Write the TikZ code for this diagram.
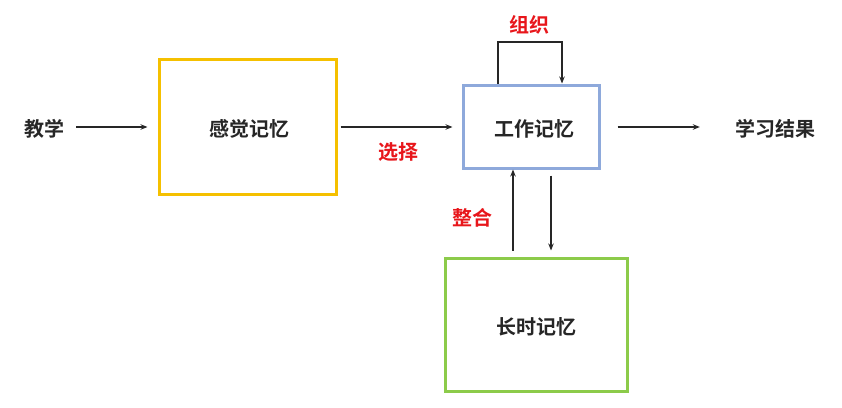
\documentclass[tikz,border=0pt]{standalone}
\usepackage{fontspec}
\setmainfont{Noto Sans CJK SC}[BoldFont={* Bold}]
\usetikzlibrary{arrows.meta}
\definecolor{ybox}{HTML}{F5C000}
\definecolor{bbox}{HTML}{8EA9DB}
\definecolor{gbox}{HTML}{8CCB4A}
\definecolor{lred}{HTML}{E8161B}
\begin{document}
\begin{tikzpicture}[x=1pt,y=-1pt,
  lbl/.style={font=\fontsize{20}{20}\selectfont\bfseries, text=black!85},
  rlbl/.style={font=\fontsize{20}{20}\selectfont\bfseries, text=lred},
  arr/.style={-{Stealth[length=7pt,width=5.5pt]}, line width=1.2pt, black!85},
  memb/.style={draw=#1, line width=3pt, inner sep=0pt}]
\useasboundingbox (0,0) rectangle (842,407);
\fill[white] (0,0) rectangle (842,407);
% boxes
\node[memb=ybox, minimum width=177pt, minimum height=135pt] (sens) at (247.5,126.5) {};
\node[lbl] (senst) at (249,129) {感觉记忆};
\node[memb=bbox, minimum width=136pt, minimum height=83pt] (work) at (531,126.5) {};
\node[lbl] (workt) at (534,129) {工作记忆};
\node[memb=gbox, minimum width=182pt, minimum height=133pt] (ltm) at (536,324.5) {};
\node[lbl] (ltmt) at (536,327) {长时记忆};
% texts
\node[lbl, inner sep=0pt] (teach) at (44,129) {教学};
\node[lbl, inner sep=0pt] (result) at (775,129) {学习结果};
\node[rlbl] (sel) at (398,152) {选择};
\node[rlbl] (org) at (529,25) {组织};
\node[rlbl] (integ) at (472,218) {整合};
% connectors
\draw[arr, shorten <=12pt, shorten >=10pt] (teach.east |- 0,127) -- (sens.west |- 0,127);
\draw[arr, shorten <=3pt, shorten >=9pt] (sens.east |- 0,127) -- (work.west |- 0,127);
\draw[arr, shorten <=17pt, shorten >=35pt] (work.east |- 0,127) -- (result.west |- 0,127);
\coordinate (lp1) at (498,42);
\coordinate (lp2) at (562,42);
\draw[arr] (work.north -| lp1) -- (lp1) -- (lp2) -- (work.north -| lp2);
\draw[arr, shorten <=6pt] (ltm.north -| 513,0) -- (work.south -| 513,0);
\draw[arr, shorten <=6pt, shorten >=6pt] (work.south -| 551,0) -- (ltm.north -| 551,0);
\end{tikzpicture}
\end{document}
